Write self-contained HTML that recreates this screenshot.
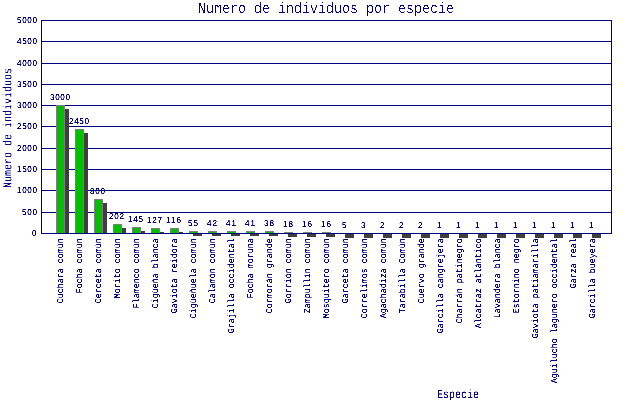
<!DOCTYPE html>
<html lang="es"><head><meta charset="utf-8"><title>Numero de individuos por especie</title>
<style>
html,body{margin:0;padding:0;background:#fff;}
svg{display:block;}
text{white-space:pre;}
</style></head><body>
<svg width="640" height="400" viewBox="0 0 640 400" shape-rendering="crispEdges" text-rendering="geometricPrecision">
<rect x="0" y="0" width="640" height="400" fill="#ffffff"/>
<rect x="41" y="233" width="571" height="1" fill="#00007f"/>
<rect x="41" y="212" width="571" height="1" fill="#00007f"/>
<rect x="41" y="190" width="571" height="1" fill="#00007f"/>
<rect x="41" y="169" width="571" height="1" fill="#00007f"/>
<rect x="41" y="148" width="571" height="1" fill="#00007f"/>
<rect x="41" y="126" width="571" height="1" fill="#00007f"/>
<rect x="41" y="105" width="571" height="1" fill="#00007f"/>
<rect x="41" y="84" width="571" height="1" fill="#00007f"/>
<rect x="41" y="63" width="571" height="1" fill="#00007f"/>
<rect x="41" y="41" width="571" height="1" fill="#00007f"/>
<rect x="41" y="20" width="571" height="1" fill="#00007f"/>
<rect x="41" y="20" width="1" height="214" fill="#00007f"/>
<rect x="611" y="20" width="1" height="214" fill="#00007f"/>
<rect x="60" y="109" width="9" height="125" fill="#3f3f3f"/>
<rect x="79" y="133" width="9" height="101" fill="#3f3f3f"/>
<rect x="98" y="203" width="9" height="31" fill="#3f3f3f"/>
<rect x="117" y="228" width="9" height="6" fill="#3f3f3f"/>
<rect x="136" y="231" width="9" height="3" fill="#3f3f3f"/>
<rect x="155" y="232" width="9" height="2" fill="#3f3f3f"/>
<rect x="174" y="232" width="9" height="2" fill="#3f3f3f"/>
<rect x="193" y="233" width="9" height="3" fill="#3f3f3f"/>
<rect x="212" y="233" width="9" height="3" fill="#3f3f3f"/>
<rect x="231" y="233" width="9" height="3" fill="#3f3f3f"/>
<rect x="250" y="233" width="9" height="3" fill="#3f3f3f"/>
<rect x="269" y="233" width="9" height="3" fill="#3f3f3f"/>
<rect x="288" y="233" width="9" height="4" fill="#3f3f3f"/>
<rect x="307" y="233" width="9" height="4" fill="#3f3f3f"/>
<rect x="326" y="233" width="9" height="4" fill="#3f3f3f"/>
<rect x="345" y="233" width="9" height="5" fill="#3f3f3f"/>
<rect x="364" y="233" width="9" height="5" fill="#3f3f3f"/>
<rect x="383" y="233" width="9" height="5" fill="#3f3f3f"/>
<rect x="402" y="233" width="9" height="5" fill="#3f3f3f"/>
<rect x="421" y="233" width="9" height="5" fill="#3f3f3f"/>
<rect x="440" y="233" width="9" height="5" fill="#3f3f3f"/>
<rect x="459" y="233" width="9" height="5" fill="#3f3f3f"/>
<rect x="478" y="233" width="9" height="5" fill="#3f3f3f"/>
<rect x="497" y="233" width="9" height="5" fill="#3f3f3f"/>
<rect x="516" y="233" width="9" height="5" fill="#3f3f3f"/>
<rect x="535" y="233" width="9" height="5" fill="#3f3f3f"/>
<rect x="554" y="233" width="9" height="5" fill="#3f3f3f"/>
<rect x="573" y="233" width="9" height="5" fill="#3f3f3f"/>
<rect x="592" y="233" width="9" height="5" fill="#3f3f3f"/>
<rect x="56" y="105" width="9" height="129" fill="#7f7f7f"/>
<rect x="57" y="106" width="7" height="127" fill="#00bf00"/>
<rect x="75" y="129" width="9" height="105" fill="#7f7f7f"/>
<rect x="76" y="130" width="7" height="103" fill="#00bf00"/>
<rect x="94" y="199" width="9" height="35" fill="#7f7f7f"/>
<rect x="95" y="200" width="7" height="33" fill="#00bf00"/>
<rect x="113" y="224" width="9" height="10" fill="#7f7f7f"/>
<rect x="114" y="225" width="7" height="8" fill="#00bf00"/>
<rect x="132" y="227" width="9" height="7" fill="#7f7f7f"/>
<rect x="133" y="228" width="7" height="5" fill="#00bf00"/>
<rect x="151" y="228" width="9" height="6" fill="#7f7f7f"/>
<rect x="152" y="229" width="7" height="4" fill="#00bf00"/>
<rect x="170" y="228" width="9" height="6" fill="#7f7f7f"/>
<rect x="171" y="229" width="7" height="4" fill="#00bf00"/>
<rect x="189" y="231" width="9" height="3" fill="#7f7f7f"/>
<rect x="190" y="232" width="7" height="1" fill="#00bf00"/>
<rect x="208" y="231" width="9" height="3" fill="#7f7f7f"/>
<rect x="209" y="232" width="7" height="1" fill="#00bf00"/>
<rect x="227" y="231" width="9" height="3" fill="#7f7f7f"/>
<rect x="228" y="232" width="7" height="1" fill="#00bf00"/>
<rect x="246" y="231" width="9" height="3" fill="#7f7f7f"/>
<rect x="247" y="232" width="7" height="1" fill="#00bf00"/>
<rect x="265" y="231" width="9" height="3" fill="#7f7f7f"/>
<rect x="266" y="232" width="7" height="1" fill="#00bf00"/>
<rect x="284" y="232" width="9" height="2" fill="#7f7f7f"/>
<rect x="303" y="232" width="9" height="2" fill="#7f7f7f"/>
<rect x="322" y="232" width="9" height="2" fill="#7f7f7f"/>
<rect x="341" y="233" width="9" height="1" fill="#7f7f7f"/>
<rect x="360" y="233" width="9" height="1" fill="#7f7f7f"/>
<rect x="379" y="233" width="9" height="1" fill="#7f7f7f"/>
<rect x="398" y="233" width="9" height="1" fill="#7f7f7f"/>
<rect x="417" y="233" width="9" height="1" fill="#7f7f7f"/>
<rect x="436" y="233" width="9" height="1" fill="#7f7f7f"/>
<rect x="455" y="233" width="9" height="1" fill="#7f7f7f"/>
<rect x="474" y="233" width="9" height="1" fill="#7f7f7f"/>
<rect x="493" y="233" width="9" height="1" fill="#7f7f7f"/>
<rect x="512" y="233" width="9" height="1" fill="#7f7f7f"/>
<rect x="531" y="233" width="9" height="1" fill="#7f7f7f"/>
<rect x="550" y="233" width="9" height="1" fill="#7f7f7f"/>
<rect x="569" y="233" width="9" height="1" fill="#7f7f7f"/>
<rect x="588" y="233" width="9" height="1" fill="#7f7f7f"/>
<rect x="41" y="233" width="571" height="1" fill="#00007f"/>
<rect x="41" y="20" width="571" height="1" fill="#00007f"/>
<defs><filter id="crisp-tiny" filterUnits="userSpaceOnUse" x="0" y="0" width="640" height="400" color-interpolation-filters="sRGB"><feComponentTransfer><feFuncA type="linear" slope="2.8571" intercept="-0.7143"/></feComponentTransfer></filter><filter id="crisp-small" filterUnits="userSpaceOnUse" x="0" y="0" width="640" height="400" color-interpolation-filters="sRGB"><feComponentTransfer><feFuncA type="linear" slope="2.5000" intercept="-0.6250"/></feComponentTransfer></filter><filter id="crisp-large" filterUnits="userSpaceOnUse" x="0" y="0" width="640" height="400" color-interpolation-filters="sRGB"><feComponentTransfer><feFuncA type="linear" slope="10.0000" intercept="-5.5000"/></feComponentTransfer></filter></defs>
<g filter="url(#crisp-tiny)">
<text transform="translate(32,236) scale(0.9,0.95)" font-family='"Liberation Sans", sans-serif' font-size="9" font-weight="normal" textLength="5.556" lengthAdjust="spacing" fill="#00007f" stroke="#00007f" stroke-width="0.1">0</text>
<text transform="translate(22,215) scale(0.9,0.95)" font-family='"Liberation Sans", sans-serif' font-size="9" font-weight="normal" textLength="16.667" lengthAdjust="spacing" fill="#00007f" stroke="#00007f" stroke-width="0.1">500</text>
<text transform="translate(17,193) scale(0.9,0.95)" font-family='"Liberation Sans", sans-serif' font-size="9" font-weight="normal" textLength="22.222" lengthAdjust="spacing" fill="#00007f" stroke="#00007f" stroke-width="0.1">1000</text>
<text transform="translate(17,172) scale(0.9,0.95)" font-family='"Liberation Sans", sans-serif' font-size="9" font-weight="normal" textLength="22.222" lengthAdjust="spacing" fill="#00007f" stroke="#00007f" stroke-width="0.1">1500</text>
<text transform="translate(17,151) scale(0.9,0.95)" font-family='"Liberation Sans", sans-serif' font-size="9" font-weight="normal" textLength="22.222" lengthAdjust="spacing" fill="#00007f" stroke="#00007f" stroke-width="0.1">2000</text>
<text transform="translate(17,129) scale(0.9,0.95)" font-family='"Liberation Sans", sans-serif' font-size="9" font-weight="normal" textLength="22.222" lengthAdjust="spacing" fill="#00007f" stroke="#00007f" stroke-width="0.1">2500</text>
<text transform="translate(17,108) scale(0.9,0.95)" font-family='"Liberation Sans", sans-serif' font-size="9" font-weight="normal" textLength="22.222" lengthAdjust="spacing" fill="#00007f" stroke="#00007f" stroke-width="0.1">3000</text>
<text transform="translate(17,87) scale(0.9,0.95)" font-family='"Liberation Sans", sans-serif' font-size="9" font-weight="normal" textLength="22.222" lengthAdjust="spacing" fill="#00007f" stroke="#00007f" stroke-width="0.1">3500</text>
<text transform="translate(17,66) scale(0.9,0.95)" font-family='"Liberation Sans", sans-serif' font-size="9" font-weight="normal" textLength="22.222" lengthAdjust="spacing" fill="#00007f" stroke="#00007f" stroke-width="0.1">4000</text>
<text transform="translate(17,44) scale(0.9,0.95)" font-family='"Liberation Sans", sans-serif' font-size="9" font-weight="normal" textLength="22.222" lengthAdjust="spacing" fill="#00007f" stroke="#00007f" stroke-width="0.1">4500</text>
<text transform="translate(17,23) scale(0.9,0.95)" font-family='"Liberation Sans", sans-serif' font-size="9" font-weight="normal" textLength="22.222" lengthAdjust="spacing" fill="#00007f" stroke="#00007f" stroke-width="0.1">5000</text>
<text transform="translate(50,100) scale(0.9,0.95)" font-family='"Liberation Sans", sans-serif' font-size="9" font-weight="normal" textLength="22.222" lengthAdjust="spacing" fill="#00007f" stroke="#00007f" stroke-width="0.1">3000</text>
<text transform="translate(69,124) scale(0.9,0.95)" font-family='"Liberation Sans", sans-serif' font-size="9" font-weight="normal" textLength="22.222" lengthAdjust="spacing" fill="#00007f" stroke="#00007f" stroke-width="0.1">2450</text>
<text transform="translate(90,194) scale(0.9,0.95)" font-family='"Liberation Sans", sans-serif' font-size="9" font-weight="normal" textLength="16.667" lengthAdjust="spacing" fill="#00007f" stroke="#00007f" stroke-width="0.1">800</text>
<text transform="translate(109,219) scale(0.9,0.95)" font-family='"Liberation Sans", sans-serif' font-size="9" font-weight="normal" textLength="16.667" lengthAdjust="spacing" fill="#00007f" stroke="#00007f" stroke-width="0.1">202</text>
<text transform="translate(128,222) scale(0.9,0.95)" font-family='"Liberation Sans", sans-serif' font-size="9" font-weight="normal" textLength="16.667" lengthAdjust="spacing" fill="#00007f" stroke="#00007f" stroke-width="0.1">145</text>
<text transform="translate(147,223) scale(0.9,0.95)" font-family='"Liberation Sans", sans-serif' font-size="9" font-weight="normal" textLength="16.667" lengthAdjust="spacing" fill="#00007f" stroke="#00007f" stroke-width="0.1">127</text>
<text transform="translate(166,223) scale(0.9,0.95)" font-family='"Liberation Sans", sans-serif' font-size="9" font-weight="normal" textLength="16.667" lengthAdjust="spacing" fill="#00007f" stroke="#00007f" stroke-width="0.1">116</text>
<text transform="translate(188,226) scale(0.9,0.95)" font-family='"Liberation Sans", sans-serif' font-size="9" font-weight="normal" textLength="11.111" lengthAdjust="spacing" fill="#00007f" stroke="#00007f" stroke-width="0.1">55</text>
<text transform="translate(207,226) scale(0.9,0.95)" font-family='"Liberation Sans", sans-serif' font-size="9" font-weight="normal" textLength="11.111" lengthAdjust="spacing" fill="#00007f" stroke="#00007f" stroke-width="0.1">42</text>
<text transform="translate(226,226) scale(0.9,0.95)" font-family='"Liberation Sans", sans-serif' font-size="9" font-weight="normal" textLength="11.111" lengthAdjust="spacing" fill="#00007f" stroke="#00007f" stroke-width="0.1">41</text>
<text transform="translate(245,226) scale(0.9,0.95)" font-family='"Liberation Sans", sans-serif' font-size="9" font-weight="normal" textLength="11.111" lengthAdjust="spacing" fill="#00007f" stroke="#00007f" stroke-width="0.1">41</text>
<text transform="translate(264,226) scale(0.9,0.95)" font-family='"Liberation Sans", sans-serif' font-size="9" font-weight="normal" textLength="11.111" lengthAdjust="spacing" fill="#00007f" stroke="#00007f" stroke-width="0.1">38</text>
<text transform="translate(283,227) scale(0.9,0.95)" font-family='"Liberation Sans", sans-serif' font-size="9" font-weight="normal" textLength="11.111" lengthAdjust="spacing" fill="#00007f" stroke="#00007f" stroke-width="0.1">18</text>
<text transform="translate(302,227) scale(0.9,0.95)" font-family='"Liberation Sans", sans-serif' font-size="9" font-weight="normal" textLength="11.111" lengthAdjust="spacing" fill="#00007f" stroke="#00007f" stroke-width="0.1">16</text>
<text transform="translate(321,227) scale(0.9,0.95)" font-family='"Liberation Sans", sans-serif' font-size="9" font-weight="normal" textLength="11.111" lengthAdjust="spacing" fill="#00007f" stroke="#00007f" stroke-width="0.1">16</text>
<text transform="translate(342,228) scale(0.9,0.95)" font-family='"Liberation Sans", sans-serif' font-size="9" font-weight="normal" textLength="5.556" lengthAdjust="spacing" fill="#00007f" stroke="#00007f" stroke-width="0.1">5</text>
<text transform="translate(361,228) scale(0.9,0.95)" font-family='"Liberation Sans", sans-serif' font-size="9" font-weight="normal" textLength="5.556" lengthAdjust="spacing" fill="#00007f" stroke="#00007f" stroke-width="0.1">3</text>
<text transform="translate(380,228) scale(0.9,0.95)" font-family='"Liberation Sans", sans-serif' font-size="9" font-weight="normal" textLength="5.556" lengthAdjust="spacing" fill="#00007f" stroke="#00007f" stroke-width="0.1">2</text>
<text transform="translate(399,228) scale(0.9,0.95)" font-family='"Liberation Sans", sans-serif' font-size="9" font-weight="normal" textLength="5.556" lengthAdjust="spacing" fill="#00007f" stroke="#00007f" stroke-width="0.1">2</text>
<text transform="translate(418,228) scale(0.9,0.95)" font-family='"Liberation Sans", sans-serif' font-size="9" font-weight="normal" textLength="5.556" lengthAdjust="spacing" fill="#00007f" stroke="#00007f" stroke-width="0.1">2</text>
<text transform="translate(437,228) scale(0.9,0.95)" font-family='"Liberation Sans", sans-serif' font-size="9" font-weight="normal" textLength="5.556" lengthAdjust="spacing" fill="#00007f" stroke="#00007f" stroke-width="0.1">1</text>
<text transform="translate(456,228) scale(0.9,0.95)" font-family='"Liberation Sans", sans-serif' font-size="9" font-weight="normal" textLength="5.556" lengthAdjust="spacing" fill="#00007f" stroke="#00007f" stroke-width="0.1">1</text>
<text transform="translate(475,228) scale(0.9,0.95)" font-family='"Liberation Sans", sans-serif' font-size="9" font-weight="normal" textLength="5.556" lengthAdjust="spacing" fill="#00007f" stroke="#00007f" stroke-width="0.1">1</text>
<text transform="translate(494,228) scale(0.9,0.95)" font-family='"Liberation Sans", sans-serif' font-size="9" font-weight="normal" textLength="5.556" lengthAdjust="spacing" fill="#00007f" stroke="#00007f" stroke-width="0.1">1</text>
<text transform="translate(513,228) scale(0.9,0.95)" font-family='"Liberation Sans", sans-serif' font-size="9" font-weight="normal" textLength="5.556" lengthAdjust="spacing" fill="#00007f" stroke="#00007f" stroke-width="0.1">1</text>
<text transform="translate(532,228) scale(0.9,0.95)" font-family='"Liberation Sans", sans-serif' font-size="9" font-weight="normal" textLength="5.556" lengthAdjust="spacing" fill="#00007f" stroke="#00007f" stroke-width="0.1">1</text>
<text transform="translate(551,228) scale(0.9,0.95)" font-family='"Liberation Sans", sans-serif' font-size="9" font-weight="normal" textLength="5.556" lengthAdjust="spacing" fill="#00007f" stroke="#00007f" stroke-width="0.1">1</text>
<text transform="translate(570,228) scale(0.9,0.95)" font-family='"Liberation Sans", sans-serif' font-size="9" font-weight="normal" textLength="5.556" lengthAdjust="spacing" fill="#00007f" stroke="#00007f" stroke-width="0.1">1</text>
<text transform="translate(589,228) scale(0.9,0.95)" font-family='"Liberation Sans", sans-serif' font-size="9" font-weight="normal" textLength="5.556" lengthAdjust="spacing" fill="#00007f" stroke="#00007f" stroke-width="0.1">1</text>
<text transform="translate(63,303.25) rotate(-90) scale(1,1.09)" font-family='"Liberation Mono", monospace' font-size="8.333" font-weight="normal" textLength="65.0" lengthAdjust="spacing" fill="#00007f">Cuchara común</text>
<text transform="translate(82,293.25) rotate(-90) scale(1,1.09)" font-family='"Liberation Mono", monospace' font-size="8.333" font-weight="normal" textLength="55.0" lengthAdjust="spacing" fill="#00007f">Focha común</text>
<text transform="translate(101,303.25) rotate(-90) scale(1,1.09)" font-family='"Liberation Mono", monospace' font-size="8.333" font-weight="normal" textLength="65.0" lengthAdjust="spacing" fill="#00007f">Cerceta común</text>
<text transform="translate(120,298.25) rotate(-90) scale(1,1.09)" font-family='"Liberation Mono", monospace' font-size="8.333" font-weight="normal" textLength="60.0" lengthAdjust="spacing" fill="#00007f">Morito común</text>
<text transform="translate(139,308.25) rotate(-90) scale(1,1.09)" font-family='"Liberation Mono", monospace' font-size="8.333" font-weight="normal" textLength="70.0" lengthAdjust="spacing" fill="#00007f">Flamenco común</text>
<text transform="translate(158,308.25) rotate(-90) scale(1,1.09)" font-family='"Liberation Mono", monospace' font-size="8.333" font-weight="normal" textLength="70.0" lengthAdjust="spacing" fill="#00007f">Cigüeña blanca</text>
<text transform="translate(177,313.25) rotate(-90) scale(1,1.09)" font-family='"Liberation Mono", monospace' font-size="8.333" font-weight="normal" textLength="75.0" lengthAdjust="spacing" fill="#00007f">Gaviota reidora</text>
<text transform="translate(196,318.25) rotate(-90) scale(1,1.09)" font-family='"Liberation Mono", monospace' font-size="8.333" font-weight="normal" textLength="80.0" lengthAdjust="spacing" fill="#00007f">Cigüeñuela común</text>
<text transform="translate(215,303.25) rotate(-90) scale(1,1.09)" font-family='"Liberation Mono", monospace' font-size="8.333" font-weight="normal" textLength="65.0" lengthAdjust="spacing" fill="#00007f">Calamón común</text>
<text transform="translate(234,333.25) rotate(-90) scale(1,1.09)" font-family='"Liberation Mono", monospace' font-size="8.333" font-weight="normal" textLength="95.0" lengthAdjust="spacing" fill="#00007f">Grajilla occidental</text>
<text transform="translate(253,298.25) rotate(-90) scale(1,1.09)" font-family='"Liberation Mono", monospace' font-size="8.333" font-weight="normal" textLength="60.0" lengthAdjust="spacing" fill="#00007f">Focha moruna</text>
<text transform="translate(272,313.25) rotate(-90) scale(1,1.09)" font-family='"Liberation Mono", monospace' font-size="8.333" font-weight="normal" textLength="75.0" lengthAdjust="spacing" fill="#00007f">Cormorán grande</text>
<text transform="translate(291,303.25) rotate(-90) scale(1,1.09)" font-family='"Liberation Mono", monospace' font-size="8.333" font-weight="normal" textLength="65.0" lengthAdjust="spacing" fill="#00007f">Gorrión común</text>
<text transform="translate(310,313.25) rotate(-90) scale(1,1.09)" font-family='"Liberation Mono", monospace' font-size="8.333" font-weight="normal" textLength="75.0" lengthAdjust="spacing" fill="#00007f">Zampullín común</text>
<text transform="translate(329,318.25) rotate(-90) scale(1,1.09)" font-family='"Liberation Mono", monospace' font-size="8.333" font-weight="normal" textLength="80.0" lengthAdjust="spacing" fill="#00007f">Mosquitero común</text>
<text transform="translate(348,303.25) rotate(-90) scale(1,1.09)" font-family='"Liberation Mono", monospace' font-size="8.333" font-weight="normal" textLength="65.0" lengthAdjust="spacing" fill="#00007f">Garceta común</text>
<text transform="translate(367,318.25) rotate(-90) scale(1,1.09)" font-family='"Liberation Mono", monospace' font-size="8.333" font-weight="normal" textLength="80.0" lengthAdjust="spacing" fill="#00007f">Correlimos común</text>
<text transform="translate(386,318.25) rotate(-90) scale(1,1.09)" font-family='"Liberation Mono", monospace' font-size="8.333" font-weight="normal" textLength="80.0" lengthAdjust="spacing" fill="#00007f">Agachadiza común</text>
<text transform="translate(405,313.25) rotate(-90) scale(1,1.09)" font-family='"Liberation Mono", monospace' font-size="8.333" font-weight="normal" textLength="75.0" lengthAdjust="spacing" fill="#00007f">Tarabilla Común</text>
<text transform="translate(424,303.25) rotate(-90) scale(1,1.09)" font-family='"Liberation Mono", monospace' font-size="8.333" font-weight="normal" textLength="65.0" lengthAdjust="spacing" fill="#00007f">Cuervo grande</text>
<text transform="translate(443,333.25) rotate(-90) scale(1,1.09)" font-family='"Liberation Mono", monospace' font-size="8.333" font-weight="normal" textLength="95.0" lengthAdjust="spacing" fill="#00007f">Garcilla cangrejera</text>
<text transform="translate(462,323.25) rotate(-90) scale(1,1.09)" font-family='"Liberation Mono", monospace' font-size="8.333" font-weight="normal" textLength="85.0" lengthAdjust="spacing" fill="#00007f">Charrán patinegro</text>
<text transform="translate(481,328.25) rotate(-90) scale(1,1.09)" font-family='"Liberation Mono", monospace' font-size="8.333" font-weight="normal" textLength="90.0" lengthAdjust="spacing" fill="#00007f">Alcatraz atlántico</text>
<text transform="translate(500,318.25) rotate(-90) scale(1,1.09)" font-family='"Liberation Mono", monospace' font-size="8.333" font-weight="normal" textLength="80.0" lengthAdjust="spacing" fill="#00007f">Lavandera blanca</text>
<text transform="translate(519,313.25) rotate(-90) scale(1,1.09)" font-family='"Liberation Mono", monospace' font-size="8.333" font-weight="normal" textLength="75.0" lengthAdjust="spacing" fill="#00007f">Estornino negro</text>
<text transform="translate(538,338.25) rotate(-90) scale(1,1.09)" font-family='"Liberation Mono", monospace' font-size="8.333" font-weight="normal" textLength="100.0" lengthAdjust="spacing" fill="#00007f">Gaviota patiamarilla</text>
<text transform="translate(557,383.25) rotate(-90) scale(1,1.09)" font-family='"Liberation Mono", monospace' font-size="8.333" font-weight="normal" textLength="145.0" lengthAdjust="spacing" fill="#00007f">Aguilucho lagunero occidental</text>
<text transform="translate(576,288.25) rotate(-90) scale(1,1.09)" font-family='"Liberation Mono", monospace' font-size="8.333" font-weight="normal" textLength="50.0" lengthAdjust="spacing" fill="#00007f">Garza real</text>
<text transform="translate(595,318.25) rotate(-90) scale(1,1.09)" font-family='"Liberation Mono", monospace' font-size="8.333" font-weight="normal" textLength="80.0" lengthAdjust="spacing" fill="#00007f">Garcilla bueyera</text>
</g>
<g filter="url(#crisp-small)">
<text transform="translate(437,398) scale(1,1.2)" font-family='"Liberation Mono", monospace' font-size="10" font-weight="normal" textLength="42.0" lengthAdjust="spacing" fill="#00007f">Especie</text>
<text transform="translate(11,188) rotate(-90) scale(1,1.2)" font-family='"Liberation Mono", monospace' font-size="10" font-weight="normal" textLength="120.0" lengthAdjust="spacing" fill="#00007f">Numero de individuos</text>
</g>
<g filter="url(#crisp-large)">
<text transform="translate(198,13) scale(1,1.14)" font-family='"Liberation Mono", monospace' font-size="13.333" font-weight="normal" textLength="256.0" lengthAdjust="spacing" fill="#00007f">Numero de individuos por especie</text>
</g>
</svg>
</body></html>
